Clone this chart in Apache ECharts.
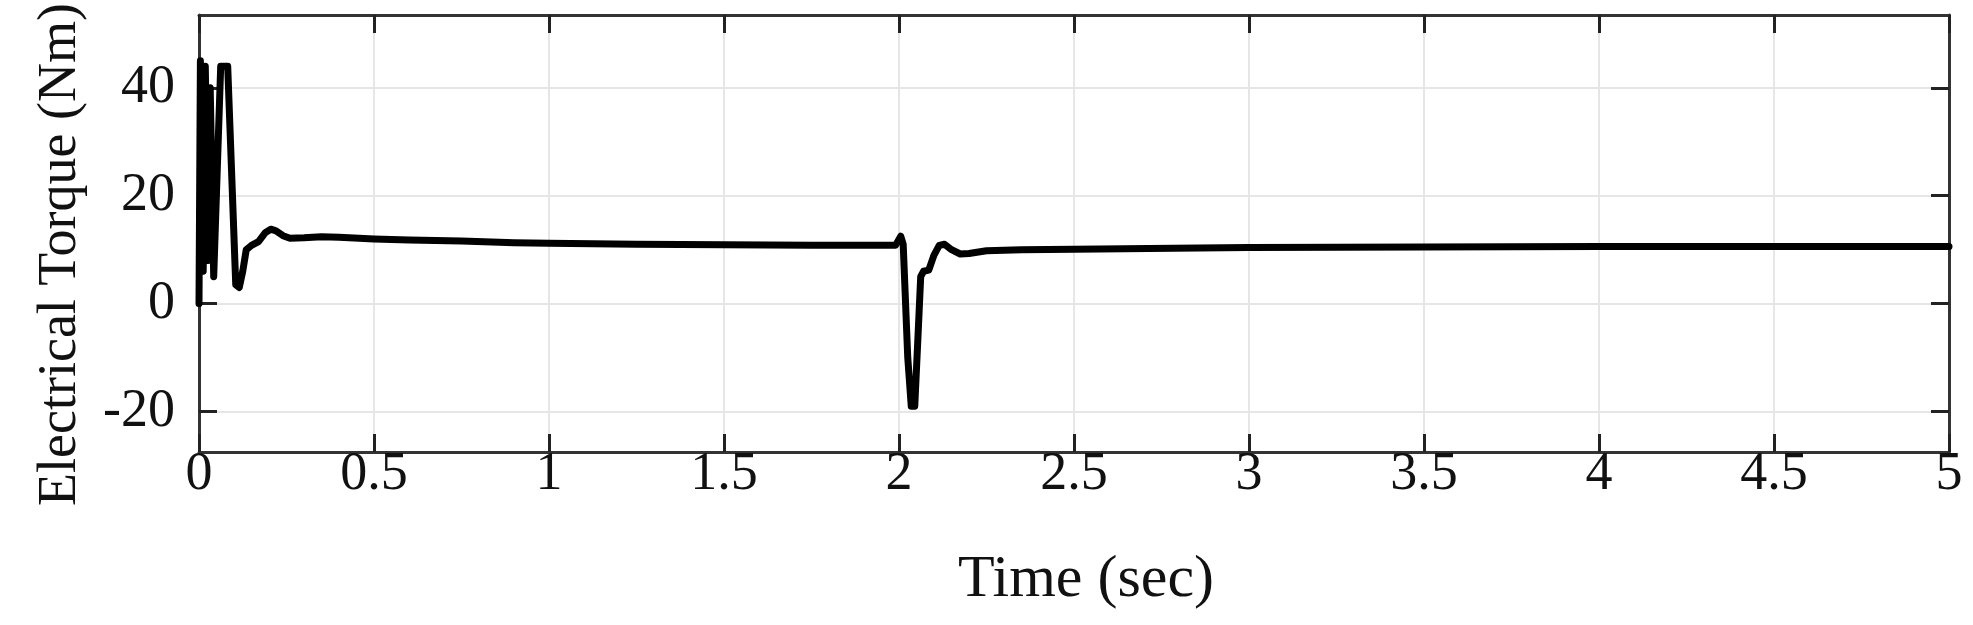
<!DOCTYPE html>
<html>
<head>
<meta charset="utf-8">
<script src="https://cdn.jsdelivr.net/npm/echarts@6/dist/echarts.min.js"></script>
<style>html,body{margin:0;padding:0;background:#fff;}#c{width:1973px;height:625px;}</style>
</head>
<body>
<div id="c"></div>
<script>
const timeSec = [0, 0.004, 0.012, 0.018, 0.026, 0.032, 0.042, 0.062, 0.082, 0.105, 0.115, 0.125, 0.135, 0.15, 0.17, 0.19, 0.205, 0.22, 0.24, 0.26, 0.3, 0.35, 0.4, 0.5, 0.6, 0.75, 0.9, 1.0, 1.25, 1.5, 1.75, 1.99, 2.005, 2.012, 2.025, 2.035, 2.045, 2.055, 2.062, 2.07, 2.085, 2.1, 2.115, 2.13, 2.15, 2.175, 2.2, 2.25, 2.35, 2.5, 3.0, 3.5, 4.0, 4.5, 5.0];
const torqueNm = [0, 45, 6, 44, 8, 40, 5, 44, 44, 3.5, 3, 6, 10, 10.8, 11.5, 13.2, 13.8, 13.5, 12.6, 12.1, 12.2, 12.4, 12.3, 12.0, 11.8, 11.6, 11.3, 11.2, 11.0, 10.9, 10.8, 10.8, 12.5, 11, -10, -19, -19, -5, 5, 6, 6.2, 9, 10.8, 11, 10, 9.2, 9.3, 9.8, 10, 10.1, 10.4, 10.5, 10.6, 10.6, 10.6];
const yTicks = [-20, 0, 20, 40];
const xTitle = 'Time (sec)';
const yTitle = 'Electrical Torque (Nm)';

const pts = timeSec.map((t, i) => [t, torqueNm[i]]);
const font = 'Liberation Serif, Times New Roman, serif';
const axisLine = {show: true, onZero: false, lineStyle: {color: '#333', width: 3}};
const tick = {show: true, inside: true, length: 18, lineStyle: {color: '#222', width: 3}};
const grid = {show: true, lineStyle: {color: '#e6e6e6', width: 2}};

const chart = echarts.init(document.getElementById('c'));
chart.setOption({
  animation: false,
  backgroundColor: '#fff',
  grid: {left: 199, right: 24, top: 15, bottom: 173, containLabel: false, outerBoundsMode: 'none'},
  xAxis: [
    {type: 'value', min: 0, max: 5, interval: 0.5, position: 'bottom',
     axisLine: axisLine, axisTick: tick, splitLine: grid,
     axisLabel: {color: '#111', fontFamily: font, fontSize: 54, margin: -4},
     name: xTitle, nameLocation: 'middle', nameGap: 98,
     nameTextStyle: {color: '#111', fontFamily: font, fontSize: 60, padding: [0, 0, 0, 24]}},
    {type: 'value', min: 0, max: 5, interval: 0.5, position: 'top',
     axisLine: axisLine, axisTick: tick, splitLine: {show: false}, axisLabel: {show: false}}
  ],
  yAxis: [
    {type: 'value', min: -27.5, max: 53.5, position: 'left',
     axisLine: axisLine,
     axisTick: Object.assign({}, tick, {customValues: yTicks}),
     splitLine: grid,
     axisLabel: {customValues: yTicks, color: '#111', fontFamily: font, fontSize: 54, margin: 24},
     name: yTitle, nameLocation: 'middle', nameGap: 111,
     nameTextStyle: {color: '#111', fontFamily: font, fontSize: 54, padding: [0, 42, 0, 0]}},
    {type: 'value', min: -27.5, max: 53.5, position: 'right',
     axisLine: axisLine,
     axisTick: Object.assign({}, tick, {customValues: yTicks}),
     splitLine: {show: false}, axisLabel: {show: false}}
  ],
  series: [{
    type: 'line', data: pts, xAxisIndex: 0, yAxisIndex: 0,
    showSymbol: false, symbol: 'none',
    lineStyle: {color: '#000', width: 7, join: 'round', cap: 'round'}
  }]
});
</script>
</body>
</html>
